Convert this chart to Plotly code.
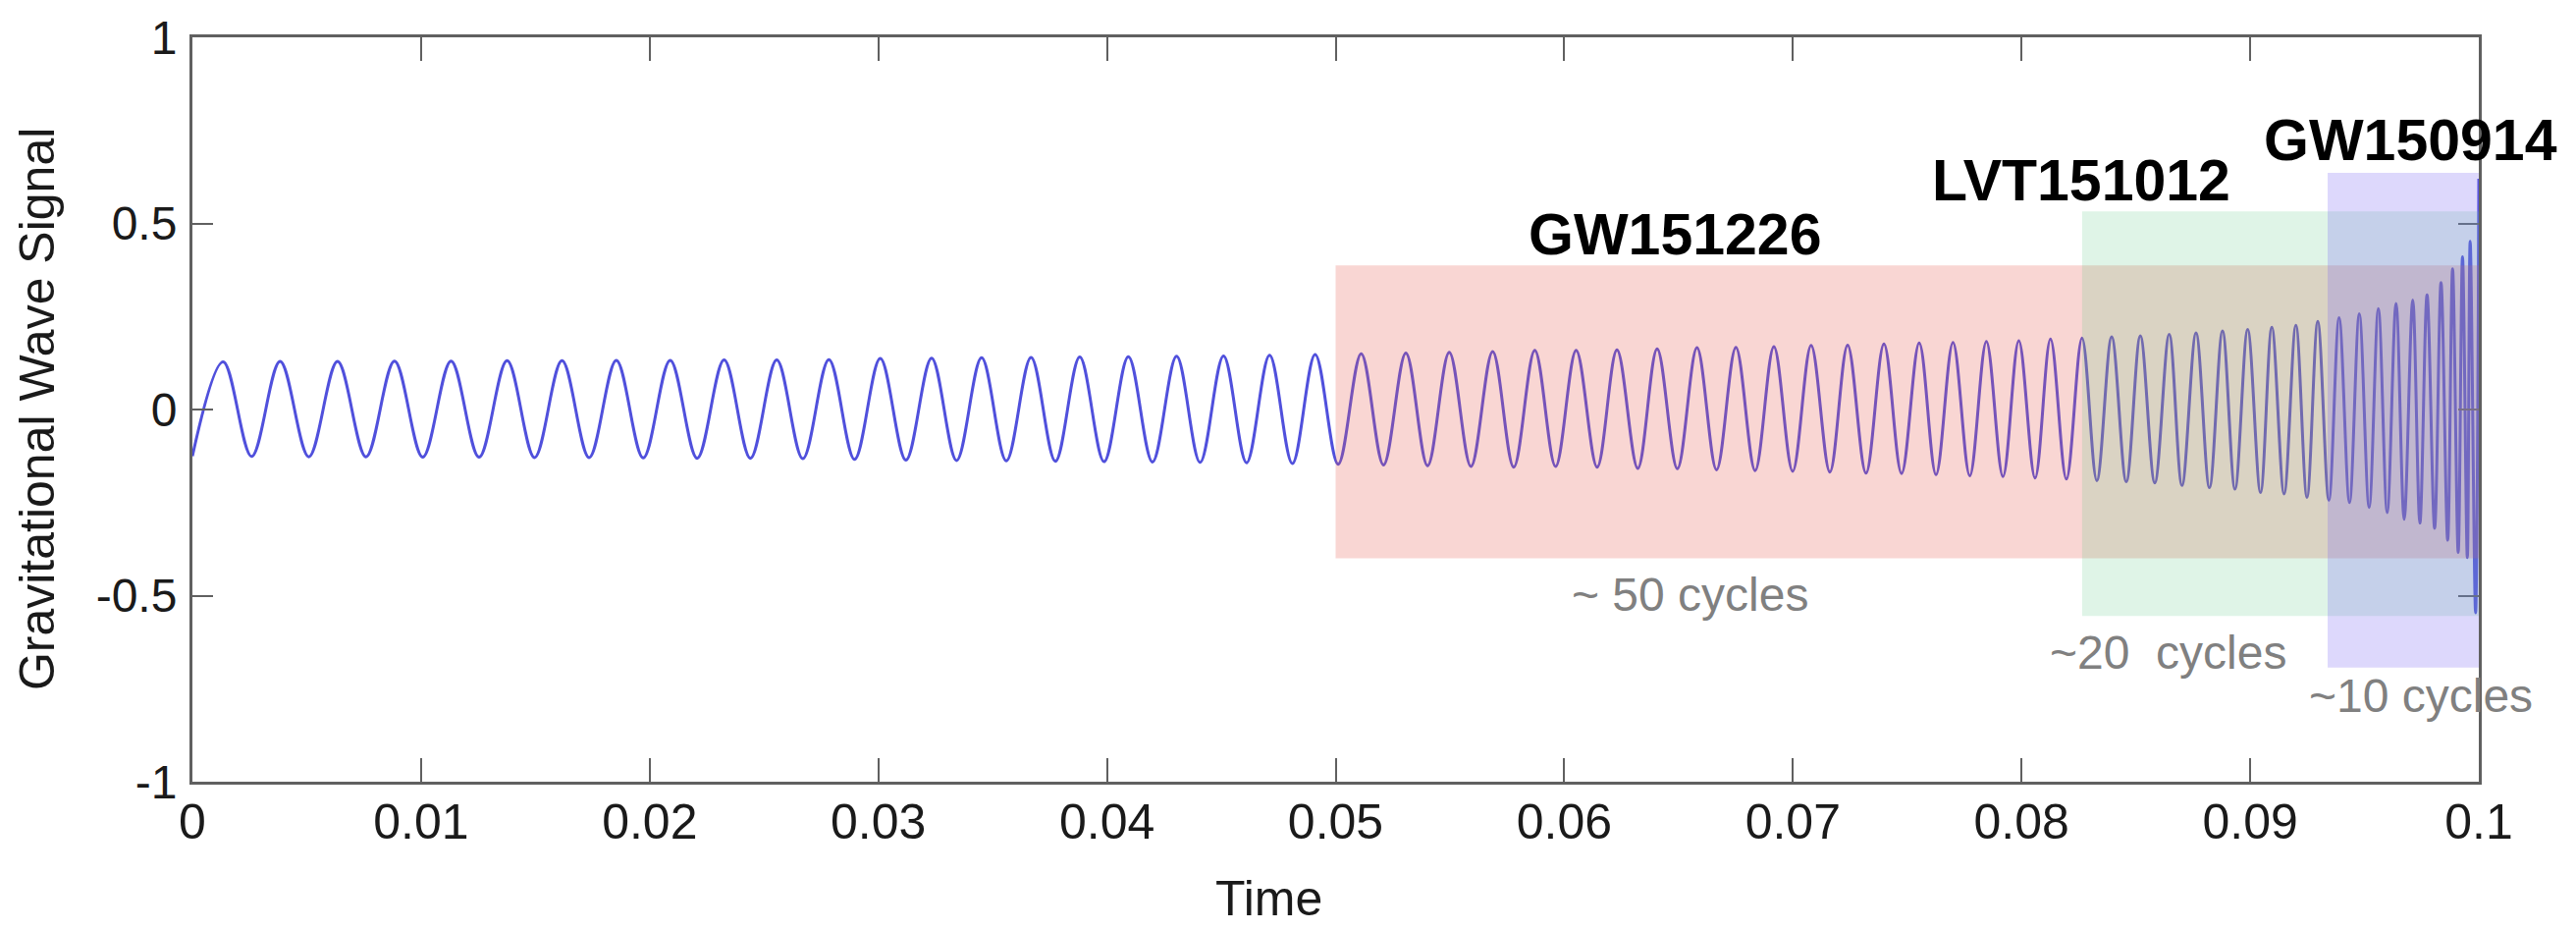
import plotly.graph_objects as go

# ---- data ----
# times (s) and values of the signal's peaks (maxima)
peak_t = [0.001344, 0.003835, 0.006347, 0.008838, 0.011312, 0.013764, 0.016165, 0.018540,
          0.020898, 0.023255, 0.025557, 0.027838,
          0.030084, 0.032330, 0.034516, 0.036680, 0.038810, 0.040936, 0.043045, 0.045098,
          0.047112, 0.049105, 0.051119, 0.053073, 0.054971, 0.056869,
          0.058712, 0.060520, 0.062306, 0.064063, 0.065806, 0.067507, 0.069169, 0.070797,
          0.072394, 0.073983, 0.075525, 0.077002, 0.078463, 0.079880, 0.081267,
          0.082646, 0.083943, 0.085197, 0.086459, 0.087632, 0.088791, 0.089891, 0.090947,
          0.091999, 0.092957, 0.093889,
          0.094773, 0.095607, 0.096380, 0.097110, 0.097737, 0.098347, 0.098853, 0.099287,
          0.099622, 0.100000]
peak_v = [0.128, 0.129, 0.129, 0.130, 0.130, 0.131, 0.131, 0.132, 0.132, 0.133, 0.133, 0.134,
          0.137, 0.138, 0.139, 0.140, 0.141, 0.142, 0.143, 0.144, 0.146, 0.148, 0.150, 0.152,
          0.154, 0.156,
          0.159, 0.159, 0.160, 0.163, 0.166, 0.167, 0.169, 0.172, 0.173, 0.176, 0.179, 0.180,
          0.183, 0.185, 0.189,
          0.192, 0.195, 0.198, 0.202, 0.206, 0.211, 0.215, 0.221, 0.226, 0.237, 0.247,
          0.257, 0.271, 0.285, 0.294, 0.308, 0.341, 0.378, 0.410, 0.452, 0.620]

# times (s) and values of the signal's troughs (minima)
trough_t = [0.000000,
            0.002590, 0.005091, 0.007593, 0.010075, 0.012538, 0.014965, 0.017353, 0.019719,
            0.022077, 0.024406, 0.026698, 0.028961,
            0.031207, 0.033423, 0.035598, 0.037745, 0.039873, 0.041991, 0.044072, 0.046105,
            0.048109, 0.050112, 0.052096, 0.054022, 0.055920, 0.057791,
            0.059622, 0.061439, 0.063217, 0.064948, 0.066661, 0.068349, 0.069990, 0.071618,
            0.073198, 0.074753, 0.076260, 0.077737, 0.079189, 0.080593,
            0.081963,
            0.083294, 0.084582, 0.085829, 0.087018, 0.088220, 0.089336, 0.090453, 0.091484,
            0.092485, 0.093442,
            0.094344,
            0.095203, 0.095993, 0.096736, 0.097423, 0.098067, 0.098638, 0.099098, 0.099497,
            0.099858]
trough_v = [-0.125,
            -0.126, -0.127, -0.127, -0.128, -0.128, -0.129, -0.129, -0.130, -0.131, -0.131,
            -0.132, -0.134,
            -0.136, -0.137, -0.138, -0.139, -0.140, -0.141, -0.142, -0.143, -0.145, -0.147,
            -0.149, -0.151, -0.153, -0.155,
            -0.153, -0.155, -0.158, -0.159, -0.162, -0.164, -0.166, -0.168, -0.171, -0.172,
            -0.175, -0.178, -0.180, -0.184,
            -0.187,
            -0.191, -0.194, -0.197, -0.204, -0.210, -0.214, -0.223, -0.227, -0.236, -0.244,
            -0.250,
            -0.263, -0.277, -0.295, -0.305, -0.319, -0.351, -0.384, -0.398,
            -0.546]

# event windows: name, start, end, low, high
events = ["GW151226", "LVT151012", "GW150914"]
event_start = [0.0500, 0.08265, 0.09339]
event_end = [0.1000, 0.1000, 0.1000]
event_low = [-0.400, -0.555, -0.693]
event_high = [0.387, 0.532, 0.636]
cycle_labels = ["~ 50 cycles", "~20  cycles", "~10 cycles"]

x_ticks = [0, 0.01, 0.02, 0.03, 0.04, 0.05, 0.06, 0.07, 0.08, 0.09, 0.1]
x_tick_text = ["0", "0.01", "0.02", "0.03", "0.04", "0.05", "0.06", "0.07", "0.08", "0.09", "0.1"]
y_ticks = [-1, -0.5, 0, 0.5, 1]
y_tick_text = ["-1", "-0.5", "0", "0.5", "1"]

# ---- build ----
pts = sorted(list(zip(peak_t, peak_v)) + list(zip(trough_t, trough_v)))
sig_t = [p[0] for p in pts]
sig_v = [p[1] for p in pts]

FONT = "Liberation Sans, Arial, Helvetica, sans-serif"

fig = go.Figure()
fig.add_trace(go.Scatter(x=sig_t, y=sig_v, mode="lines",
                         line=dict(color="#5050dc", width=3, shape="spline", smoothing=1),
                         hoverinfo="skip", showlegend=False))

fills = ["rgba(232,92,80,0.25)", "rgba(95,200,135,0.20)", "rgba(120,100,245,0.25)"]
for i in range(3):
    fig.add_shape(type="rect", xref="x", yref="y",
                  x0=event_start[i], x1=event_end[i], y0=event_low[i], y1=event_high[i],
                  fillcolor=fills[i], line=dict(width=0), layer="above")

# event names
name_pos = [(0.06483, 0.469), (0.08261, 0.615), (0.09703, 0.722)]
for i in range(3):
    fig.add_annotation(x=name_pos[i][0], y=name_pos[i][1], xref="x", yref="y",
                       text="<b>%s</b>" % events[i], showarrow=False,
                       font=dict(family=FONT, size=59, color="#000000"),
                       xanchor="center", yanchor="middle")

cyc_pos = [(0.06551, -0.498), (0.08639, -0.652), (0.09745, -0.770)]
for i in range(3):
    fig.add_annotation(x=cyc_pos[i][0], y=cyc_pos[i][1], xref="x", yref="y",
                       text=cycle_labels[i], showarrow=False,
                       font=dict(family=FONT, size=48, color="#808080"),
                       xanchor="center", yanchor="middle")

# axis titles
fig.add_annotation(x=0.471, y=-0.157, xref="paper", yref="paper", text="Time",
                   showarrow=False, font=dict(family=FONT, size=50, color="#1a1a1a"),
                   xanchor="center", yanchor="middle")
fig.add_annotation(x=-0.0678, y=0.5, xref="paper", yref="paper",
                   text="Gravitational Wave Signal", textangle=-90,
                   showarrow=False, font=dict(family=FONT, size=50, color="#1a1a1a"),
                   xanchor="center", yanchor="middle")

axis_common = dict(showline=True, linecolor="#606060", linewidth=3, mirror="ticks",
                   ticks="inside", tickcolor="#606060", tickwidth=2,
                   showgrid=False, zeroline=False, ticklabeloverflow="allow")

fig.update_xaxes(range=[0, 0.1], tickvals=x_ticks, ticktext=x_tick_text, ticklen=24,
                 tickfont=dict(family=FONT, size=50, color="#1a1a1a"),
                 ticklabelstandoff=-5, **axis_common)
fig.update_yaxes(range=[-1, 1], tickvals=y_ticks, ticktext=y_tick_text, ticklen=21,
                 tickfont=dict(family=FONT, size=48, color="#1a1a1a"),
                 ticklabelstandoff=3, **axis_common)

fig.update_layout(width=2624, height=947, plot_bgcolor="white", paper_bgcolor="white",
                  margin=dict(l=196, r=99, t=26, b=151), showlegend=False)

fig.write_html("out.html")
